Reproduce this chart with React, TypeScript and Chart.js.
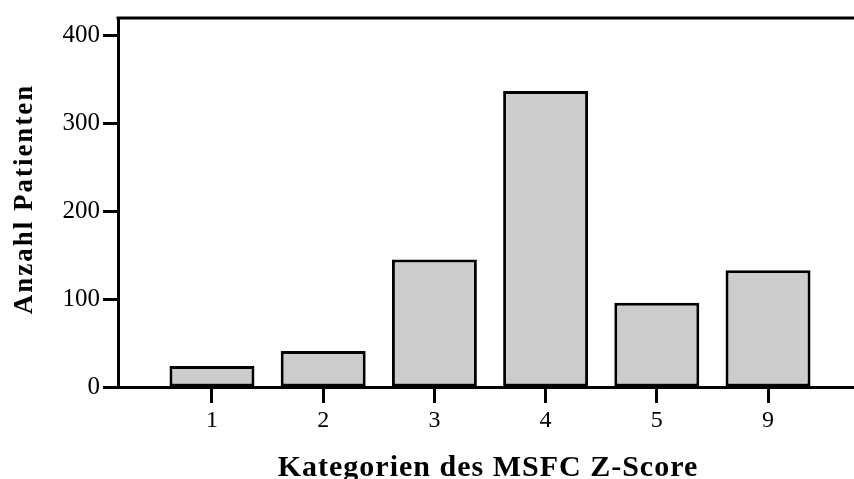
import React, { useEffect, useRef } from "react";
import { Chart, registerables } from "chart.js";

Chart.register(...registerables);

const categories = ["1", "2", "3", "4", "5", "9"];
const patientCounts = [24, 41, 145, 337, 96, 133];
const yTicks = [0, 100, 200, 300, 400];
const yTitle = "Anzahl Patienten";
const xTitle = "Kategorien des MSFC Z-Score";

const FONT = '"Liberation Serif", "Times New Roman", serif';

const framePlugin = {
  id: "frame",
  afterDraw(chart: any) {
    const { ctx, chartArea } = chart;
    ctx.save();
    ctx.strokeStyle = "#000";
    ctx.lineWidth = 3;
    ctx.beginPath();
    ctx.moveTo(chartArea.left - 1.5, chartArea.top);
    ctx.lineTo(chart.width, chartArea.top);
    ctx.stroke();

    ctx.fillStyle = "#000";
    ctx.font = `bold 27px ${FONT}`;
    (ctx as any).letterSpacing = "2px";
    ctx.textAlign = "center";
    ctx.textBaseline = "middle";
    ctx.translate(25, 199);
    ctx.rotate(-Math.PI / 2);
    ctx.fillText(yTitle, 0, 0);
    ctx.restore();

    ctx.save();
    ctx.fillStyle = "#000";
    ctx.font = `bold 30px ${FONT}`;
    (ctx as any).letterSpacing = "1px";
    ctx.textAlign = "center";
    ctx.textBaseline = "alphabetic";
    ctx.fillText(xTitle, 488, 476);
    ctx.restore();
  },
};

export default function App() {
  const ref = useRef<HTMLCanvasElement>(null);
  useEffect(() => {
    if (!ref.current) return;
    const chart = new Chart(ref.current, {
      type: "bar",
      data: {
        datasets: [
          {
            data: patientCounts.map((v, i) => ({ x: i, y: v })),
            backgroundColor: "#cccccc",
            borderColor: "#000000",
            borderWidth: 3,
            borderSkipped: false,
            barPercentage: 0.764,
            categoryPercentage: 1,
          },
        ],
      },
      options: {
        animation: false,
        responsive: false,
        maintainAspectRatio: false,
        layout: { padding: { top: 17, left: 0, right: 0, bottom: 0 } },
        plugins: { legend: { display: false }, tooltip: { enabled: false }, title: { display: false } },
        scales: {
          x: {
            type: "linear",
            offset: false,
            min: -0.845,
            max: 5.773,
            afterBuildTicks: (scale: any) => {
              scale.ticks = categories.map((_, i) => ({ value: i }));
            },
            afterFit: (scale: any) => {
              scale.height = 92;
            },
            ticks: {
              color: "#000",
              font: { family: FONT, size: 24 },
              padding: 3,
              maxRotation: 0,
              autoSkip: false,
              callback: (v: any) => categories[v] ?? "",
            },
            grid: {
              offset: false,
              drawOnChartArea: false,
              drawTicks: true,
              tickLength: 16,
              tickWidth: 3,
              tickColor: "#000",
            },
            border: { display: true, color: "#000", width: 3 },
          },
          y: {
            min: 0,
            max: 420,
            afterBuildTicks: (scale: any) => {
              scale.ticks = yTicks.map((v) => ({ value: v }));
            },
            afterFit: (scale: any) => {
              scale.width = 118;
            },
            ticks: {
              color: "#000",
              font: { family: FONT, size: 25 },
              padding: 3,
            },
            grid: {
              drawOnChartArea: false,
              drawTicks: true,
              tickLength: 15,
              tickWidth: 3,
              tickColor: "#000",
            },
            border: { display: true, color: "#000", width: 3 },
          },
        },
      },
      plugins: [framePlugin],
    });
    return () => chart.destroy();
  }, []);
  return (
    <div style={{ position: "fixed", left: 0, top: 0, width: 854, height: 479, background: "#fff" }}>
      <canvas ref={ref} width={854} height={479} style={{ width: 854, height: 479, display: "block" }} />
    </div>
  );
}
